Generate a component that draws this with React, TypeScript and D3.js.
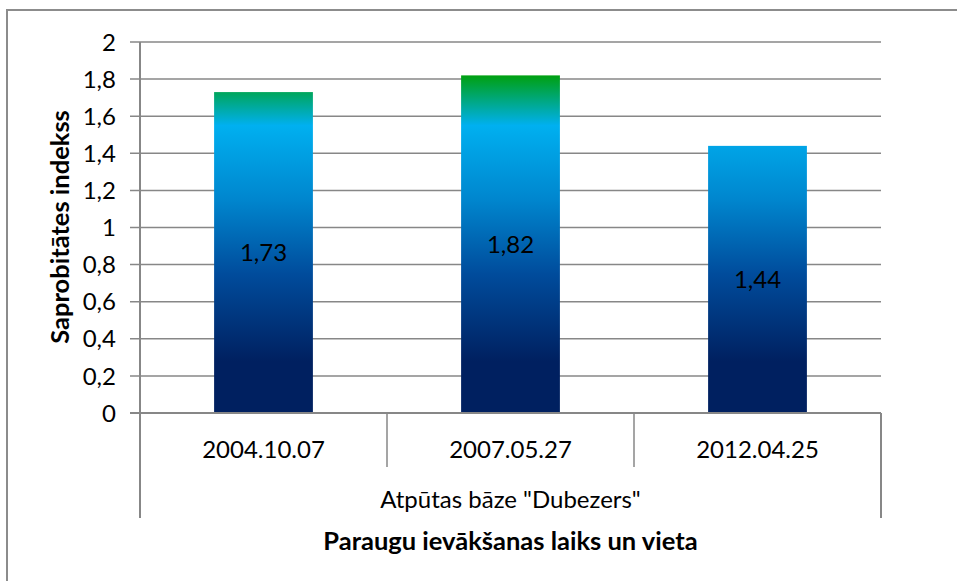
import React from "react";
import * as d3 from "d3";

const categories = ["2004.10.07", "2007.05.27", "2012.04.25"];
const values = [1.73, 1.82, 1.44];
const yTicks = [0, 0.2, 0.4, 0.6, 0.8, 1, 1.2, 1.4, 1.6, 1.8, 2];
const groupLabel = 'Atpūtas bāze "Dubezers"';
const yTitle = "Saprobitātes indekss";
const xTitle = "Paraugu ievākšanas laiks un vieta";

// gradient stops in value space
const gradStops: [number, string][] = [
  [0, "#002060"],
  [0.28, "#002060"],
  [0.75, "#004C9C"],
  [1.15, "#0086CE"],
  [1.55, "#00B0F0"],
  [1.82, "#00A010"],
];

const W = 957;
const H = 581;
const FONT = "Lato, 'Open Sans', sans-serif";
const GRID = "#878787";
const FS = 24;
const FSB = 25.5;

export default function App() {
  const y = d3.scaleLinear().domain([0, 2]).range([413, 42]);
  const x = d3
    .scaleBand<string>()
    .domain(categories)
    .range([140, 881])
    .paddingInner(0.6)
    .paddingOuter(0.3);
  const fmt = (v: number) => String(+v.toFixed(2)).replace(".", ",");
  const x0 = 140;
  const x1 = 881;
  const y0 = y(0);
  const gTop = y(gradStops[gradStops.length - 1][0]);

  return (
    <div style={{ position: "absolute", left: 0, top: 0, width: W, height: H, overflow: "hidden", background: "#fff" }}>
      <svg width={W} height={H} style={{ display: "block" }} fontFamily={FONT}>
        <defs>
          <linearGradient id="barGrad" gradientUnits="userSpaceOnUse" x1={0} x2={0} y1={y0} y2={gTop}>
            {gradStops.map(([v, c], i) => (
              <stop key={i} offset={(v / gradStops[gradStops.length - 1][0]).toFixed(4)} stopColor={c} />
            ))}
          </linearGradient>
        </defs>
        {/* outer border */}
        <rect x={7} y={10} width={W + 20} height={H + 20} fill="none" stroke="#8c8c8c" strokeWidth={2} />
        {/* gridlines and y ticks */}
        {yTicks.map((t) => (
          <g key={t}>
            <line x1={130} x2={x1} y1={y(t)} y2={y(t)} stroke={GRID} strokeWidth={1.5} />
            <text x={116} y={y(t)} dy="0.36em" textAnchor="end" fontSize={FS} fill="#000">
              {fmt(t)}
            </text>
          </g>
        ))}
        {/* bars */}
        {values.map((v, i) => (
          <rect
            key={i}
            x={x(categories[i])}
            y={y(v)}
            width={x.bandwidth()}
            height={y0 - y(v)}
            fill="url(#barGrad)"
          />
        ))}
        {/* data labels */}
        {values.map((v, i) => (
          <text
            key={"l" + i}
            x={(x(categories[i]) as number) + x.bandwidth() / 2}
            y={(y(v) + y0) / 2}
            dy="0.36em"
            textAnchor="middle"
            fontSize={FS}
            fill="#000"
          >
            {fmt(v)}
          </text>
        ))}
        {/* axes */}
        <line x1={x0} x2={x0} y1={y(2)} y2={518} stroke={GRID} strokeWidth={2} />
        <line x1={130} x2={x1} y1={y0} y2={y0} stroke={GRID} strokeWidth={2} />
        <line x1={x1} x2={x1} y1={y0} y2={518} stroke={GRID} strokeWidth={2} />
        {categories.slice(1).map((c) => {
          const xs = (x(c) as number) - (x.step() * x.paddingInner()) / 2;
          return <line key={c} x1={xs} x2={xs} y1={y0} y2={467} stroke={GRID} strokeWidth={1.5} />;
        })}
        {categories.map((c) => (
          <text
            key={c}
            x={(x(c) as number) + x.bandwidth() / 2}
            y={449}
            dy="0.36em"
            textAnchor="middle"
            fontSize={FS}
            fill="#000"
          >
            {c}
          </text>
        ))}
        <text x={(x0 + x1) / 2} y={499} dy="0.36em" textAnchor="middle" fontSize={FS} fill="#000">
          {groupLabel}
        </text>
        <text x={(x0 + x1) / 2} y={541} dy="0.36em" textAnchor="middle" fontSize={FSB} fontWeight="bold" fill="#000">
          {xTitle}
        </text>
        <text
          transform={`translate(60,227) rotate(-90)`}
          dy="0.36em"
          textAnchor="middle"
          fontSize={FSB}
          fontWeight="bold"
          fill="#000"
        >
          {yTitle}
        </text>
      </svg>
    </div>
  );
}
